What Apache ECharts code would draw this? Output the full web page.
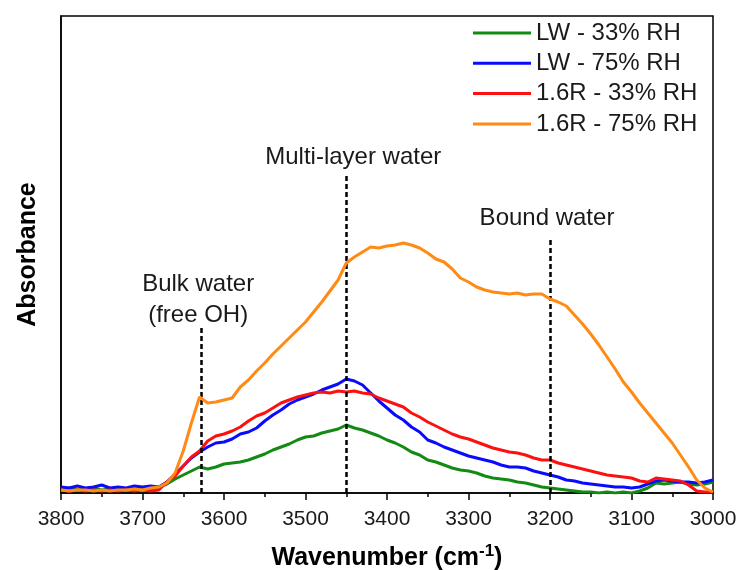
<!DOCTYPE html>
<html>
<head>
<meta charset="utf-8">
<script src="https://cdn.jsdelivr.net/npm/echarts@6/dist/echarts.min.js"></script>
<style>
html,body{margin:0;padding:0;background:#fff;}
#c{width:737px;height:570px;}
</style>
</head>
<body>
<div id="c"></div>
<script>
// Wavenumbers (cm-1), 3800 -> 3000 every 10
const wavenumbers = [];
for (let w = 3800; w >= 3000; w -= 10) wavenumbers.push(w);

// Absorbance (arbitrary units)
const lw33 = [4,5,3,4,5,3,4,5,3,4,5,4,6,9,14,18,22,26,24,26,29,30,31,33,36,39,43,46,49,53,56,57,60,62,64,68,65,63,60,57,53,50,46,41,38,33,31,28,25,23,22,20,17,15,14,13,11,10,8,6,5,4,3,2,1,1,0,1,0,1,0,2,5,10,9,10,11,9,8,9,11];
const lw75 = [6,5,7,5,6,8,5,6,5,7,6,7,6,11,19,27,35,41,46,50,51,54,59,61,65,72,78,83,89,93,96,99,103,106,109,114,112,108,100,92,85,78,73,66,61,53,50,46,43,40,37,35,33,31,28,26,26,25,22,20,18,16,13,12,10,9,8,7,6,6,5,6,9,12,13,12,11,11,10,11,13];
const r33 = [3,2,3,2,3,2,3,2,3,2,3,2,3,11,17,27,36,42,52,57,59,62,66,72,77,80,85,90,93,96,98,100,101,100,102,101,102,100,99,95,92,89,86,80,76,71,67,63,59,56,54,51,48,45,43,41,40,38,35,33,33,30,28,26,24,22,20,18,17,16,15,12,11,15,14,13,12,8,2,1,1];
const r75 = [3,2,3,3,2,3,2,3,3,4,3,5,6,10,20,42,70,96,90,91,93,95,106,113,122,130,139,147,155,163,171,181,191,202,213,230,236,241,246,245,247,248,250,248,245,240,234,231,224,215,211,206,203,201,200,199,200,198,199,199,194,191,187,178,169,159,148,136,124,111,101,90,80,70,60,50,38,26,13,5,1];

const seriesNames = ['LW - 33% RH','LW - 75% RH','1.6R - 33% RH','1.6R - 75% RH'];
const seriesColors = ['#138a13','#0a0aff','#ff1010','#ff8a14'];
const seriesData = [lw33, lw75, r33, r75];

// annotation lines: [wavenumber, top value, label]
const annotations = [
  [3628, 165, 'Bulk water\n(free OH)'],
  [3450, 318, 'Multi-layer water'],
  [3200, 256, 'Bound water']
];
const xTicks = {min: 3000, max: 3800, step: 100};

const FONT = '"Liberation Sans", Arial, sans-serif';
const chart = echarts.init(document.getElementById('c'), null, {renderer: 'canvas'});

const series = seriesData.map((d, i) => ({
  name: seriesNames[i],
  type: 'line',
  showSymbol: false,
  symbol: 'none',
  data: d.map((v, j) => [wavenumbers[j], v]),
  lineStyle: {color: seriesColors[i], width: 3},
  itemStyle: {color: seriesColors[i]},
  emphasis: {disabled: true},
  animation: false,
  z: 2 + i
}));

const labelDist = [-3, 2, 3];
const labelDx = [-3, 7, -3];
series.push({
  type: 'line',
  data: [],
  silent: true,
  animation: false,
  markLine: {
    silent: true,
    symbol: ['none','none'],
    animation: false,
    lineStyle: {color: '#000', width: 2.5, type: [5, 3]},
    label: {show: true},
    data: annotations.map((a, k) => [
      {coord: [a[0], 0], symbol: 'none'},
      {coord: [a[0], a[1]], symbol: 'none',
        label: {
          show: true, position: 'end', formatter: a[2],
          fontFamily: FONT, fontSize: 24, color: '#1a1a1a', lineHeight: 31,
          distance: labelDist[k],
          offset: [labelDx[k], 0]
        }}
    ])
  }
});

chart.setOption({
  animation: false,
  backgroundColor: '#fff',
  grid: {left: 61, right: 24, top: 16, bottom: 77, outerBoundsMode: 'none', containLabel: false,
    show: true, borderColor: '#000', borderWidth: 1.5, backgroundColor: 'transparent'},
  legend: {
    orient: 'vertical',
    left: 473, top: 21,
    padding: 0,
    icon: 'rect',
    itemWidth: 58, itemHeight: 3, itemGap: 6.3,
    data: seriesNames,
    textStyle: {fontFamily: FONT, fontSize: 24, color: '#1a1a1a', lineHeight: 24},
    selectedMode: false
  },
  xAxis: {
    type: 'value', inverse: true,
    min: xTicks.min, max: xTicks.max, interval: xTicks.step,
    axisLine: {show: true, onZero: false, lineStyle: {color: '#000', width: 1.5}},
    axisTick: {show: true, inside: false, length: 7, lineStyle: {color: '#000', width: 1.5}},
    minorTick: {show: true, splitNumber: 2, length: 4, lineStyle: {color: '#000', width: 1.5}},
    splitLine: {show: false},
    axisLabel: {fontFamily: FONT, fontSize: 21, color: '#1a1a1a', margin: 16, formatter: v => String(v)},
    name: 'Wavenumber (cm{sup|-1})',
    nameLocation: 'middle', nameGap: 50,
    nameTextStyle: {fontFamily: FONT, fontSize: 25, fontWeight: 'bold', color: '#000',
      rich: {sup: {fontFamily: FONT, fontSize: 17, fontWeight: 'bold', color: '#000', padding: [0,0,14,0]}}}
  },
  yAxis: {
    type: 'value', min: 0, max: 477,
    axisLine: {show: true, lineStyle: {color: '#000', width: 1.5}},
    axisTick: {show: false}, axisLabel: {show: false}, splitLine: {show: false},
    name: 'Absorbance', nameLocation: 'middle', nameGap: 20, nameRotate: 90,
    nameTextStyle: {fontFamily: FONT, fontSize: 25, fontWeight: 'bold', color: '#000'}
  },
  series: series
});
</script>
</body>
</html>
